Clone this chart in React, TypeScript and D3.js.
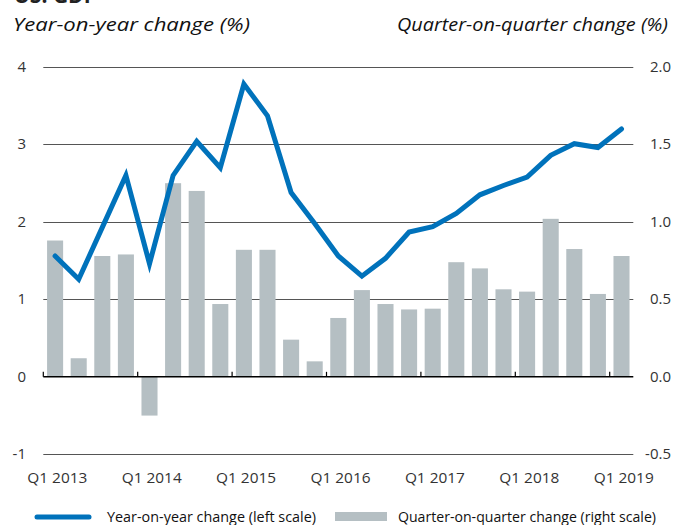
import React, { useRef, useEffect } from "react";
import * as d3 from "d3";

const quarters = [
  "Q1 2013", "Q2 2013", "Q3 2013", "Q4 2013",
  "Q1 2014", "Q2 2014", "Q3 2014", "Q4 2014",
  "Q1 2015", "Q2 2015", "Q3 2015", "Q4 2015",
  "Q1 2016", "Q2 2016", "Q3 2016", "Q4 2016",
  "Q1 2017", "Q2 2017", "Q3 2017", "Q4 2017",
  "Q1 2018", "Q2 2018", "Q3 2018", "Q4 2018",
  "Q1 2019",
];

// year-on-year change, left scale (%)
const yoy = [
  1.56, 1.26, 1.93, 2.6, 1.46, 2.6, 3.04, 2.7, 3.78, 3.37, 2.38, 1.98, 1.56,
  1.3, 1.53, 1.87, 1.94, 2.11, 2.35, 2.47, 2.58, 2.86, 3.01, 2.96, 3.2,
];

// quarter-on-quarter change, right scale (%)
const qoq = [
  0.88, 0.12, 0.78, 0.79, -0.25, 1.25, 1.2, 0.47, 0.82, 0.82, 0.24, 0.1, 0.38,
  0.56, 0.47, 0.435, 0.44, 0.74, 0.7, 0.565, 0.55, 1.02, 0.825, 0.535, 0.78,
];

const leftTicks = [-1, 0, 1, 2, 3, 4];
const rightTicks = [-0.5, 0, 0.5, 1, 1.5, 2];
const xLabels = ["Q1 2013", "Q1 2014", "Q1 2015", "Q1 2016", "Q1 2017", "Q1 2018", "Q1 2019"];

const BLUE = "#0072bb";
const GREY = "#b5bfc3";
const FONT = "'Open Sans', sans-serif";

const App = () => {
  const svgRef = useRef<SVGSVGElement>(null);

  useEffect(() => {
    const svg = d3.select(svgRef.current);
    svg.selectAll("*").remove();

    const left = 43.3,
      right = 633.3,
      top = 67,
      bottom = 454.3;

    const x = d3
      .scaleBand()
      .domain(quarters)
      .range([left, right])
      .paddingInner(0.32)
      .paddingOuter(0.16);
    const yL = d3.scaleLinear().domain([-1, 4]).range([bottom, top]);
    const yR = d3.scaleLinear().domain([-0.5, 2]).range([bottom, top]);
    const edge = (q) => x(q) - (x.step() * x.paddingInner()) / 2;

    // title (cut off at top, as in the source)
    svg
      .append("text")
      .attr("x", 14)
      .attr("y", 3)
      .text("US: GDP")
      .style("font-family", FONT)
      .style("font-weight", 700)
      .style("font-size", "21px")
      .style("fill", "#222");

    // axis titles
    svg
      .append("text")
      .attr("x", 13)
      .attr("y", 31)
      .attr("textLength", 237)
      .attr("lengthAdjust", "spacingAndGlyphs")
      .text("Year-on-year change (%)")
      .style("font-family", FONT)
      .style("font-style", "italic")
      .style("font-size", "19px")
      .style("fill", "#111");
    svg
      .append("text")
      .attr("x", 397)
      .attr("y", 31)
      .attr("textLength", 271)
      .attr("lengthAdjust", "spacingAndGlyphs")
      .text("Quarter-on-quarter change (%)")
      .style("font-family", FONT)
      .style("font-style", "italic")
      .style("font-size", "19px")
      .style("fill", "#111");

    // gridlines
    svg
      .append("g")
      .selectAll("line")
      .data(leftTicks.filter((d) => d !== 0))
      .enter()
      .append("line")
      .attr("x1", left)
      .attr("x2", right)
      .attr("y1", (d) => Math.round(yL(d)) + 0.5)
      .attr("y2", (d) => Math.round(yL(d)) + 0.5)
      .attr("stroke", "#555")
      .attr("stroke-width", 1.2);

    // left labels
    svg
      .append("g")
      .selectAll("text")
      .data(leftTicks)
      .enter()
      .append("text")
      .attr("x", 26)
      .attr("y", (d) => yL(d) + 5)
      .attr("text-anchor", "end")
      .text((d) => (d < 0 ? "-" + Math.abs(d) : String(d)))
      .style("font-family", FONT)
      .style("font-size", "15px")
      .style("fill", "#333");

    // right labels
    svg
      .append("g")
      .selectAll("text")
      .data(rightTicks)
      .enter()
      .append("text")
      .attr("x", 671)
      .attr("y", (d) => yR(d) + 5)
      .attr("text-anchor", "end")
      .text((d) => (d < 0 ? "-" + Math.abs(d).toFixed(1) : d.toFixed(1)))
      .style("font-family", FONT)
      .style("font-size", "15px")
      .style("fill", "#333");

    // bars
    svg
      .append("g")
      .selectAll("rect")
      .data(qoq)
      .enter()
      .append("rect")
      .attr("x", (d, i) => x(quarters[i]))
      .attr("width", x.bandwidth())
      .attr("y", (d) => yR(Math.max(0, d)))
      .attr("height", (d) => Math.abs(yR(d) - yR(0)))
      .style("fill", GREY);

    // zero axis + ticks
    svg
      .append("line")
      .attr("x1", left)
      .attr("x2", right)
      .attr("y1", yL(0))
      .attr("y2", yL(0))
      .attr("stroke", "#000")
      .attr("stroke-width", 1.5);
    svg
      .append("g")
      .selectAll("line")
      .data(xLabels)
      .enter()
      .append("line")
      .attr("x1", (d) => edge(d))
      .attr("x2", (d) => edge(d))
      .attr("y1", yL(0))
      .attr("y2", yL(0) - 5)
      .attr("stroke", "#000")
      .attr("stroke-width", 1.2);

    // x labels
    svg
      .append("g")
      .selectAll("text")
      .data(xLabels)
      .enter()
      .append("text")
      .attr("x", (d) => edge(d) + 14)
      .attr("y", 483)
      .attr("text-anchor", "middle")
      .attr("textLength", 60)
      .attr("lengthAdjust", "spacingAndGlyphs")
      .text((d) => d)
      .style("font-family", FONT)
      .style("font-size", "15px")
      .style("fill", "#333");

    // line
    const line = d3
      .line<number>()
      .x((d, i) => x(quarters[i]) + x.bandwidth() / 2)
      .y((d) => yL(d));
    svg
      .append("path")
      .datum(yoy)
      .attr("d", line)
      .attr("fill", "none")
      .attr("stroke", BLUE)
      .attr("stroke-width", 5)
      .attr("stroke-linecap", "round")
      .attr("stroke-linejoin", "miter");

    // legend
    svg
      .append("line")
      .attr("x1", 37)
      .attr("x2", 89)
      .attr("y1", 517)
      .attr("y2", 517)
      .attr("stroke", BLUE)
      .attr("stroke-width", 5)
      .attr("stroke-linecap", "round");
    svg
      .append("text")
      .attr("x", 107)
      .attr("y", 522)
      .attr("textLength", 209)
      .attr("lengthAdjust", "spacingAndGlyphs")
      .text("Year-on-year change (left scale)")
      .style("font-family", FONT)
      .style("font-size", "15px")
      .style("fill", "#111");
    svg
      .append("rect")
      .attr("x", 335)
      .attr("y", 512)
      .attr("width", 52)
      .attr("height", 9)
      .style("fill", GREY);
    svg
      .append("text")
      .attr("x", 398)
      .attr("y", 522)
      .attr("textLength", 258)
      .attr("lengthAdjust", "spacingAndGlyphs")
      .text("Quarter-on-quarter change (right scale)")
      .style("font-family", FONT)
      .style("font-size", "15px")
      .style("fill", "#111");
  }, []);

  return (
    <svg
      ref={svgRef}
      width={690}
      height={525}
      style={{ position: "absolute", left: 0, top: 0, background: "#fff" }}
    ></svg>
  );
};

export default App;
